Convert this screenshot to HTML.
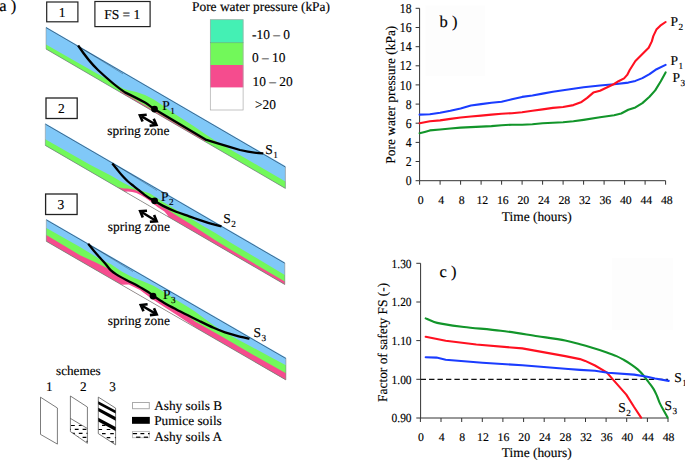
<!DOCTYPE html><html><head><meta charset="utf-8"><style>html,body{margin:0;padding:0;background:#fff;}svg{display:block;}text{text-rendering:geometricPrecision;font-family:'Liberation Serif', serif;fill:#000;stroke:#000;stroke-width:0.15px;}</style></head><body>
<svg width="685" height="460" viewBox="0 0 685 460">
<rect width="685" height="460" fill="#fff"/>
<rect x="425.4" y="5.4" width="59.8" height="70.6" fill="#fdfdfd"/>
<rect x="612" y="258" width="61" height="72" fill="#fdfdfd"/>
<text x="-0.8" y="10.8" font-size="16.5" text-anchor="start" >a )</text>
<rect x="46.7" y="2" width="31.2" height="19.8" fill="#fff" stroke="#222" stroke-width="1.2"/>
<text x="62.2" y="17" font-size="13.5" text-anchor="middle" >1</text>
<rect x="94.9" y="1.5" width="55.2" height="25.1" fill="#fff" stroke="#222" stroke-width="1.2"/>
<text x="122.3" y="18.9" font-size="13.5" text-anchor="middle" >FS = 1</text>
<rect x="46" y="98" width="31.2" height="20.5" fill="#fff" stroke="#222" stroke-width="1.3"/>
<text x="61.4" y="112.8" font-size="13.5" text-anchor="middle" >2</text>
<rect x="45.6" y="194" width="31.5" height="20.5" fill="#fff" stroke="#222" stroke-width="1.3"/>
<text x="60.8" y="208.7" font-size="13.5" text-anchor="middle" >3</text>
<text x="192" y="11.2" font-size="13.4" text-anchor="start" >Pore water pressure (kPa)</text>
<rect x="210" y="19.4" width="33.4" height="23.2" fill="#44F0B4"/>
<rect x="210" y="42.6" width="33.4" height="22.4" fill="#72F85A"/>
<rect x="210" y="65" width="33.4" height="22.4" fill="#F54C8E"/>
<rect x="210.3" y="19.7" width="32.8" height="90.3" fill="none" stroke="#aaa" stroke-width="0.7"/>
<line x1="210" y1="42.6" x2="243.4" y2="42.6" stroke="#3a9a70" stroke-width="0.5"/>
<text x="252" y="39.4" font-size="13.4" text-anchor="start" >-10 – 0</text>
<text x="252" y="62.4" font-size="13.4" text-anchor="start" >0 – 10</text>
<text x="252.5" y="85.7" font-size="13.4" text-anchor="start" >10 – 20</text>
<text x="255" y="108.5" font-size="13.4" text-anchor="start" >&gt;20</text>
<polygon points="46.0,26.7 285.4,166.1 285.4,188.4 46.0,49.0" fill="#80C8F8"/>
<polygon points="46.0,44.5 70.0,58.3 110.0,81.1 123.0,88.5 127.5,89.9 136.3,92.1 145.0,95.0 153.8,99.5 160.9,104.2 171.7,112.0 182.6,118.9 193.5,125.9 204.3,133.4 215.0,140.6 285.4,181.5 285.4,188.4 46.0,49.0" fill="#72F85A"/>
<polygon points="120.0,90.7 205.0,140.2 205.0,141.6 120.0,92.1" fill="#F54C8E"/>
<line x1="46" y1="27.6" x2="285.4" y2="167.0" stroke="#2a4a68" stroke-width="0.75"/>
<line x1="78" y1="46.2" x2="123" y2="73.9" stroke="#1a3550" stroke-width="0.5" stroke-opacity="0.7"/>
<line x1="46" y1="49.0" x2="285.4" y2="188.4" stroke="#777" stroke-width="0.7"/>
<line x1="46" y1="27.4" x2="46" y2="49.0" stroke="#888" stroke-width="0.5"/>
<line x1="285.4" y1="166.8" x2="285.4" y2="188.4" stroke="#888" stroke-width="0.6"/>
<path d="M78.1,45.5 C83.5,53.5 90,62.5 98,70 C106,77.5 116,86.5 125,92.4 C132,95.8 140,99.8 145,102.6 C149,105 151,107 154.6,109.2 L206.4,139.9 C215,142.6 228,146.5 240,150 C249,152.2 256,153 263.3,153.4" fill="none" stroke="#000" stroke-width="2.3" stroke-linecap="butt" stroke-linejoin="round"/>
<circle cx="154.5" cy="109.1" r="3.4" fill="#000"/>
<text x="162.2" y="110.4" font-size="13.5">P<tspan font-size="9.2" dx="0.5" dy="4">1</tspan></text>
<line x1="141.6" y1="116.4" x2="154.7" y2="124.0" stroke="#000" stroke-width="2.5"/>
<polyline points="142.6,121.6 139.9,115.4 146.7,114.7" fill="none" stroke="#000" stroke-width="2.6" stroke-linejoin="miter"/>
<polyline points="149.6,125.7 156.4,125.0 153.7,118.8" fill="none" stroke="#000" stroke-width="2.6" stroke-linejoin="miter"/>
<text x="107.3" y="135.1" font-size="13.4" text-anchor="start" >spring zone</text>
<text x="265.2" y="153.6" font-size="13.5">S<tspan font-size="9.2" dx="0.5" dy="4">1</tspan></text>
<polygon points="45.3,123.2 284.8,262.3 284.8,284.5 45.3,145.4" fill="#80C8F8"/>
<polygon points="45.3,139.3 90.0,164.7 111.7,176.1 122.6,182.6 133.5,188.0 150.0,193.5 163.1,202.0 176.1,209.8 189.2,217.6 202.2,225.5 215.3,233.1 230.0,242.2 284.8,275.0 284.8,284.5 45.3,145.4" fill="#72F85A"/>
<polygon points="117.5,187.2 118.8,187.4 123.5,188.5 127.0,188.4 130.6,188.9 134.7,189.8 138.2,191.2 144.3,193.4 150.0,198.2 157.8,204.6 167.0,209.2 176.1,215.3 189.2,223.3 202.2,231.8 215.3,240.2 230.0,249.3 284.8,281.6 284.8,284.5 117.5,187.3" fill="#F54C8E"/>
<polygon points="124.6,191.5 126.0,191.7 127.6,191.5 132.3,191.9 136.4,193.0 140.5,195.1 145.2,197.7 150.0,200.9 157.8,207.2 164.4,211.6 167.0,214.6 168.5,217.0" fill="#ffffff"/>
<line x1="45.3" y1="124.1" x2="284.8" y2="263.2" stroke="#2a4a68" stroke-width="0.75"/>
<line x1="112" y1="162.8" x2="157" y2="190.5" stroke="#1a3550" stroke-width="0.5" stroke-opacity="0.7"/>
<line x1="45.3" y1="145.4" x2="284.8" y2="284.5" stroke="#777" stroke-width="0.7"/>
<line x1="45.3" y1="123.9" x2="45.3" y2="145.4" stroke="#888" stroke-width="0.5"/>
<line x1="284.8" y1="263.0" x2="284.8" y2="284.5" stroke="#888" stroke-width="0.6"/>
<path d="M112.3,163.6 C113.1,164.6 115.5,167.5 117.2,169.6 C118.9,171.7 120.8,174.1 122.6,176.1 C124.4,178.1 126.2,179.9 128.0,181.5 C129.8,183.1 131.7,184.5 133.5,185.9 C135.3,187.3 137.1,188.8 138.9,190.2 C140.7,191.6 142.5,193.2 144.3,194.6 C146.2,196.0 148.3,197.4 150.0,198.4 C151.7,199.4 152.4,199.6 154.6,200.8 C156.8,202.1 159.5,204.1 163.1,205.9 C166.7,207.7 171.8,210.1 176.1,211.8 C180.4,213.5 184.8,214.8 189.2,216.3 C193.5,217.8 198.3,219.6 202.2,220.9 C206.1,222.2 209.5,223.3 212.7,224.2 C215.9,225.1 220.0,226.1 221.5,226.5" fill="none" stroke="#000" stroke-width="2.3" stroke-linecap="butt" stroke-linejoin="round"/>
<circle cx="154.6" cy="200.8" r="3.4" fill="#000"/>
<text x="161.1" y="201.4" font-size="13.5">P<tspan font-size="9.2" dx="0.5" dy="4">2</tspan></text>
<line x1="141.9" y1="212.2" x2="155.0" y2="220.3" stroke="#000" stroke-width="2.5"/>
<polyline points="142.8,217.5 140.2,211.2 147.0,210.7" fill="none" stroke="#000" stroke-width="2.6" stroke-linejoin="miter"/>
<polyline points="149.9,221.8 156.7,221.3 154.1,215.0" fill="none" stroke="#000" stroke-width="2.6" stroke-linejoin="miter"/>
<text x="107.8" y="231.3" font-size="13.4" text-anchor="start" >spring zone</text>
<text x="223.3" y="222.8" font-size="13.5">S<tspan font-size="9.2" dx="0.5" dy="4">2</tspan></text>
<polygon points="46.3,219.0 285.9,357.6 285.9,379.9 46.3,241.3" fill="#80C8F8"/>
<polygon points="46.3,228.0 80.0,247.1 100.0,259.2 111.0,264.3 122.0,271.7 133.0,277.5 143.5,281.5 154.0,285.9 164.0,292.0 176.0,299.7 188.0,307.0 195.0,311.5 205.0,319.0 220.0,329.8 235.0,338.1 250.0,345.9 270.0,356.7 285.9,365.3 285.9,379.9 46.3,241.3" fill="#72F85A"/>
<polygon points="46.3,235.1 80.0,255.2 96.3,262.8 107.2,268.3 112.6,271.6 118.0,274.4 128.9,281.0 140.0,287.7 152.6,296.2 163.9,302.7 175.9,309.3 187.9,316.1 195.0,321.5 220.0,335.6 250.0,353.1 285.9,373.3 285.9,379.9 46.3,241.3" fill="#F54C8E"/>
<polygon points="121.3,284.7 128.9,284.5 140.0,289.9 152.0,299.1 164.0,306.7 176.0,314.5 188.0,322.5 197.0,328.5 197.0,328.5 188.0,323.3 176.0,316.3 164.0,309.4 152.0,302.4 140.0,295.5 128.9,289.1 121.3,284.7" fill="#ffffff"/>
<line x1="46.3" y1="219.9" x2="285.9" y2="358.5" stroke="#2a4a68" stroke-width="0.75"/>
<line x1="88" y1="244.0" x2="133" y2="271.6" stroke="#1a3550" stroke-width="0.5" stroke-opacity="0.7"/>
<line x1="46.3" y1="241.29999999999998" x2="285.9" y2="379.90000000000003" stroke="#777" stroke-width="0.7"/>
<line x1="46.3" y1="219.7" x2="46.3" y2="241.29999999999998" stroke="#888" stroke-width="0.5"/>
<line x1="285.9" y1="358.3" x2="285.9" y2="379.90000000000003" stroke="#888" stroke-width="0.6"/>
<path d="M88.2,243.8 C89.2,245.0 92.0,248.7 94.0,251.0 C96.0,253.3 98.0,255.6 100.0,257.8 C102.0,260.1 104.2,262.4 106.0,264.5 C107.8,266.6 109.2,268.8 110.9,270.4 C112.6,272.0 113.6,272.7 116.3,274.4 C119.0,276.1 123.6,278.5 127.2,280.4 C130.8,282.3 134.4,283.9 138.0,285.9 C141.6,287.9 146.3,290.8 148.9,292.4 C151.5,294.0 150.8,294.1 153.3,295.8 C155.8,297.5 160.1,300.5 163.9,302.7 C167.7,304.9 171.9,307.1 175.9,309.2 C179.9,311.3 183.9,313.3 187.9,315.3 C191.9,317.3 195.5,319.1 199.8,321.2 C204.1,323.3 209.4,325.9 213.6,327.8 C217.8,329.7 221.1,331.0 225.0,332.3 C228.9,333.6 232.9,334.7 237.0,335.8 C241.1,336.9 247.4,338.2 249.5,338.7" fill="none" stroke="#000" stroke-width="2.3" stroke-linecap="butt" stroke-linejoin="round"/>
<circle cx="153" cy="296.1" r="3.4" fill="#000"/>
<text x="163" y="299" font-size="13.5">P<tspan font-size="9.2" dx="0.5" dy="4">3</tspan></text>
<line x1="142.5" y1="306.0" x2="155.0" y2="313.4" stroke="#000" stroke-width="2.5"/>
<polyline points="143.5,311.2 140.8,305.0 147.6,304.3" fill="none" stroke="#000" stroke-width="2.6" stroke-linejoin="miter"/>
<polyline points="149.9,315.1 156.7,314.4 154.0,308.2" fill="none" stroke="#000" stroke-width="2.6" stroke-linejoin="miter"/>
<text x="107.8" y="324.5" font-size="13.4" text-anchor="start" >spring zone</text>
<text x="253.6" y="337" font-size="13.5">S<tspan font-size="9.2" dx="0.5" dy="4">3</tspan></text>
<text x="56" y="374.7" font-size="13.2" text-anchor="start" >schemes</text>
<text x="49.2" y="390.8" font-size="13.2" text-anchor="middle" >1</text>
<text x="83.2" y="390.8" font-size="13.2" text-anchor="middle" >2</text>
<text x="112.5" y="390.8" font-size="13.2" text-anchor="middle" >3</text>
<polygon points="40.5,397.2 57.4,408 57.4,444.1 40.5,434.4" fill="#fff" stroke="#444" stroke-width="0.7"/>
<clipPath id="cl2"><polygon points="70.4,418.6 87.4,428.7 87.4,443.3 70.4,431.6"/></clipPath>
<clipPath id="cl3"><polygon points="98.3,421.5 115.6,430.6 115.6,444.8 98.3,433.6"/></clipPath>
<polygon points="70.4,396 87.4,407 87.4,443.3 70.4,431.6" fill="#fff" stroke="#444" stroke-width="0.7"/>
<g clip-path="url(#cl2)" stroke="#000" stroke-width="1.2"><line x1="63.2" y1="425.5" x2="67.0" y2="425.5"/><line x1="71.0" y1="425.5" x2="74.8" y2="425.5"/><line x1="78.8" y1="425.5" x2="82.5" y2="425.5"/><line x1="86.5" y1="425.5" x2="90.3" y2="425.5"/><line x1="94.2" y1="425.5" x2="98.0" y2="425.5"/><line x1="67.1" y1="429.4" x2="70.9" y2="429.4"/><line x1="74.8" y1="429.4" x2="78.6" y2="429.4"/><line x1="82.6" y1="429.4" x2="86.4" y2="429.4"/><line x1="90.3" y1="429.4" x2="94.1" y2="429.4"/><line x1="98.1" y1="429.4" x2="101.9" y2="429.4"/><line x1="63.2" y1="433.4" x2="67.0" y2="433.4"/><line x1="71.0" y1="433.4" x2="74.8" y2="433.4"/><line x1="78.8" y1="433.4" x2="82.5" y2="433.4"/><line x1="86.5" y1="433.4" x2="90.3" y2="433.4"/><line x1="94.2" y1="433.4" x2="98.0" y2="433.4"/><line x1="67.1" y1="437.4" x2="70.9" y2="437.4"/><line x1="74.8" y1="437.4" x2="78.6" y2="437.4"/><line x1="82.6" y1="437.4" x2="86.4" y2="437.4"/><line x1="90.3" y1="437.4" x2="94.1" y2="437.4"/><line x1="98.1" y1="437.4" x2="101.9" y2="437.4"/><line x1="63.2" y1="441.3" x2="67.0" y2="441.3"/><line x1="71.0" y1="441.3" x2="74.8" y2="441.3"/><line x1="78.8" y1="441.3" x2="82.5" y2="441.3"/><line x1="86.5" y1="441.3" x2="90.3" y2="441.3"/><line x1="94.2" y1="441.3" x2="98.0" y2="441.3"/><line x1="67.1" y1="445.2" x2="70.9" y2="445.2"/><line x1="74.8" y1="445.2" x2="78.6" y2="445.2"/><line x1="82.6" y1="445.2" x2="86.4" y2="445.2"/><line x1="90.3" y1="445.2" x2="94.1" y2="445.2"/><line x1="98.1" y1="445.2" x2="101.9" y2="445.2"/></g>
<line x1="70.4" y1="418.4" x2="87.4" y2="428.5" stroke="#444" stroke-width="0.7"/>
<polygon points="98.3,397.1 115.6,408.1 115.6,444.8 98.3,433.6" fill="#fff" stroke="#444" stroke-width="0.7"/>
<polygon points="98.3,401.2 115.6,410.6 115.6,413.6 98.3,404.2" fill="#000"/>
<polygon points="98.3,407.7 115.6,417.1 115.6,420.70000000000005 98.3,411.3" fill="#000"/>
<polygon points="98.3,417.7 115.6,427.1 115.6,430.90000000000003 98.3,421.5" fill="#000"/>
<g clip-path="url(#cl3)" stroke="#000" stroke-width="1.2"><line x1="93.8" y1="425.4" x2="97.4" y2="425.4"/><line x1="102.0" y1="425.4" x2="105.6" y2="425.4"/><line x1="110.2" y1="425.4" x2="113.8" y2="425.4"/><line x1="118.4" y1="425.4" x2="122.0" y2="425.4"/><line x1="126.6" y1="425.4" x2="130.2" y2="425.4"/><line x1="90.3" y1="429.5" x2="93.9" y2="429.5"/><line x1="98.5" y1="429.5" x2="102.1" y2="429.5"/><line x1="106.7" y1="429.5" x2="110.3" y2="429.5"/><line x1="114.9" y1="429.5" x2="118.5" y2="429.5"/><line x1="123.1" y1="429.5" x2="126.7" y2="429.5"/><line x1="93.8" y1="433.6" x2="97.4" y2="433.6"/><line x1="102.0" y1="433.6" x2="105.6" y2="433.6"/><line x1="110.2" y1="433.6" x2="113.8" y2="433.6"/><line x1="118.4" y1="433.6" x2="122.0" y2="433.6"/><line x1="126.6" y1="433.6" x2="130.2" y2="433.6"/><line x1="90.3" y1="437.7" x2="93.9" y2="437.7"/><line x1="98.5" y1="437.7" x2="102.1" y2="437.7"/><line x1="106.7" y1="437.7" x2="110.3" y2="437.7"/><line x1="114.9" y1="437.7" x2="118.5" y2="437.7"/><line x1="123.1" y1="437.7" x2="126.7" y2="437.7"/><line x1="93.8" y1="441.8" x2="97.4" y2="441.8"/><line x1="102.0" y1="441.8" x2="105.6" y2="441.8"/><line x1="110.2" y1="441.8" x2="113.8" y2="441.8"/><line x1="118.4" y1="441.8" x2="122.0" y2="441.8"/><line x1="126.6" y1="441.8" x2="130.2" y2="441.8"/><line x1="90.3" y1="445.9" x2="93.9" y2="445.9"/><line x1="98.5" y1="445.9" x2="102.1" y2="445.9"/><line x1="106.7" y1="445.9" x2="110.3" y2="445.9"/><line x1="114.9" y1="445.9" x2="118.5" y2="445.9"/><line x1="123.1" y1="445.9" x2="126.7" y2="445.9"/></g>
<rect x="132.5" y="402.5" width="16.8" height="6.2" fill="#fff" stroke="#aaa" stroke-width="1"/>
<rect x="132" y="416.9" width="17.8" height="6.9" fill="#000"/>
<rect x="132.5" y="431.5" width="16.8" height="6.2" fill="#fff" stroke="#bbb" stroke-width="0.9"/>
<line x1="132.8" y1="433.6" x2="137.1" y2="433.6" stroke="#000" stroke-width="1.2"/>
<line x1="140.4" y1="433.6" x2="144.3" y2="433.6" stroke="#000" stroke-width="1.2"/>
<line x1="148" y1="433.6" x2="149.6" y2="433.6" stroke="#000" stroke-width="1.2"/>
<line x1="136.1" y1="437.2" x2="140.4" y2="437.2" stroke="#000" stroke-width="1.2"/>
<line x1="143.8" y1="437.2" x2="148" y2="437.2" stroke="#000" stroke-width="1.2"/>
<text x="154.2" y="409.9" font-size="13.3" text-anchor="start" >Ashy soils B</text>
<text x="154.2" y="425.3" font-size="13.3" text-anchor="start" >Pumice soils</text>
<text x="154.2" y="441.3" font-size="13.3" text-anchor="start" >Ashy soils A</text>
<line x1="419.6" y1="8.3" x2="419.6" y2="180.7" stroke="#333" stroke-width="1"/>
<line x1="419.6" y1="180.7" x2="665.6" y2="180.7" stroke="#333" stroke-width="1"/>
<line x1="415.6" y1="180.7" x2="419.6" y2="180.7" stroke="#333" stroke-width="1"/>
<text x="0" y="0" font-size="13.5" text-anchor="end" transform="translate(411.6,185.25) scale(0.87,1)">0</text>
<line x1="415.6" y1="161.5" x2="419.6" y2="161.5" stroke="#333" stroke-width="1"/>
<text x="0" y="0" font-size="13.5" text-anchor="end" transform="translate(411.6,166.10) scale(0.87,1)">2</text>
<line x1="415.6" y1="142.4" x2="419.6" y2="142.4" stroke="#333" stroke-width="1"/>
<text x="0" y="0" font-size="13.5" text-anchor="end" transform="translate(411.6,146.95) scale(0.87,1)">4</text>
<line x1="415.6" y1="123.2" x2="419.6" y2="123.2" stroke="#333" stroke-width="1"/>
<text x="0" y="0" font-size="13.5" text-anchor="end" transform="translate(411.6,127.80) scale(0.87,1)">6</text>
<line x1="415.6" y1="104.1" x2="419.6" y2="104.1" stroke="#333" stroke-width="1"/>
<text x="0" y="0" font-size="13.5" text-anchor="end" transform="translate(411.6,108.65) scale(0.87,1)">8</text>
<line x1="415.6" y1="84.9" x2="419.6" y2="84.9" stroke="#333" stroke-width="1"/>
<text x="0" y="0" font-size="13.5" text-anchor="end" transform="translate(411.6,89.50) scale(0.87,1)">10</text>
<line x1="415.6" y1="65.8" x2="419.6" y2="65.8" stroke="#333" stroke-width="1"/>
<text x="0" y="0" font-size="13.5" text-anchor="end" transform="translate(411.6,70.35) scale(0.87,1)">12</text>
<line x1="415.6" y1="46.7" x2="419.6" y2="46.7" stroke="#333" stroke-width="1"/>
<text x="0" y="0" font-size="13.5" text-anchor="end" transform="translate(411.6,51.20) scale(0.87,1)">14</text>
<line x1="415.6" y1="27.5" x2="419.6" y2="27.5" stroke="#333" stroke-width="1"/>
<text x="0" y="0" font-size="13.5" text-anchor="end" transform="translate(411.6,32.05) scale(0.87,1)">16</text>
<line x1="415.6" y1="8.3" x2="419.6" y2="8.3" stroke="#333" stroke-width="1"/>
<text x="0" y="0" font-size="13.5" text-anchor="end" transform="translate(411.6,12.90) scale(0.87,1)">18</text>
<line x1="419.6" y1="180.7" x2="419.6" y2="184.7" stroke="#333" stroke-width="1"/>
<text x="420.8" y="203.8" font-size="11.8" text-anchor="middle" >0</text>
<line x1="440.1" y1="180.7" x2="440.1" y2="184.7" stroke="#333" stroke-width="1"/>
<text x="441.3" y="203.8" font-size="11.8" text-anchor="middle" >4</text>
<line x1="460.6" y1="180.7" x2="460.6" y2="184.7" stroke="#333" stroke-width="1"/>
<text x="461.8" y="203.8" font-size="11.8" text-anchor="middle" >8</text>
<line x1="481.1" y1="180.7" x2="481.1" y2="184.7" stroke="#333" stroke-width="1"/>
<text x="482.3" y="203.8" font-size="11.8" text-anchor="middle" >12</text>
<line x1="501.6" y1="180.7" x2="501.6" y2="184.7" stroke="#333" stroke-width="1"/>
<text x="502.8" y="203.8" font-size="11.8" text-anchor="middle" >16</text>
<line x1="522.1" y1="180.7" x2="522.1" y2="184.7" stroke="#333" stroke-width="1"/>
<text x="523.3" y="203.8" font-size="11.8" text-anchor="middle" >20</text>
<line x1="542.6" y1="180.7" x2="542.6" y2="184.7" stroke="#333" stroke-width="1"/>
<text x="543.8" y="203.8" font-size="11.8" text-anchor="middle" >24</text>
<line x1="563.1" y1="180.7" x2="563.1" y2="184.7" stroke="#333" stroke-width="1"/>
<text x="564.3" y="203.8" font-size="11.8" text-anchor="middle" >28</text>
<line x1="583.6" y1="180.7" x2="583.6" y2="184.7" stroke="#333" stroke-width="1"/>
<text x="584.8" y="203.8" font-size="11.8" text-anchor="middle" >32</text>
<line x1="604.1" y1="180.7" x2="604.1" y2="184.7" stroke="#333" stroke-width="1"/>
<text x="605.3" y="203.8" font-size="11.8" text-anchor="middle" >36</text>
<line x1="624.6" y1="180.7" x2="624.6" y2="184.7" stroke="#333" stroke-width="1"/>
<text x="625.8" y="203.8" font-size="11.8" text-anchor="middle" >40</text>
<line x1="645.1" y1="180.7" x2="645.1" y2="184.7" stroke="#333" stroke-width="1"/>
<text x="646.3" y="203.8" font-size="11.8" text-anchor="middle" >44</text>
<line x1="665.6" y1="180.7" x2="665.6" y2="184.7" stroke="#333" stroke-width="1"/>
<text x="666.8" y="203.8" font-size="11.8" text-anchor="middle" >48</text>
<text x="536.7" y="220.7" font-size="13.4" text-anchor="middle" >Time (hours)</text>
<text x="0" y="0" font-size="13.4" text-anchor="middle" transform="translate(394.5,94.7) rotate(-90)">Pore water pressure (kPa)</text>
<text x="439.5" y="26.6" font-size="16.5" text-anchor="start" >b )</text>
<polyline points="419.6,133.3 424.7,131.9 429.9,130.4 440.1,129.5 450.4,128.5 460.6,127.6 470.9,127.1 481.1,126.6 491.4,126.1 501.6,125.2 511.9,124.7 522.1,124.7 532.4,124.2 542.6,123.2 552.9,122.8 563.1,122.3 573.4,121.3 583.6,119.9 600.0,117.3 614.1,115.2 621.2,113.5 628.3,109.8 635.4,107.4 642.4,103.1 649.5,96.8 655.2,90.4 660.8,81.2 665.6,72.4" fill="none" stroke="#12952a" stroke-width="2.1" stroke-linejoin="round" stroke-linecap="round"/>
<polyline points="419.6,114.6 429.9,114.2 440.1,112.7 450.4,110.8 460.6,108.4 470.9,105.5 481.1,104.1 491.4,102.7 501.6,101.7 511.9,99.3 522.1,96.9 532.4,95.5 542.6,93.6 552.9,91.7 563.1,90.2 573.4,88.8 583.6,87.3 600.0,85.5 614.1,84.3 628.3,82.6 635.4,80.9 642.4,78.1 649.5,74.1 656.6,69.2 665.6,64.9" fill="none" stroke="#1a3cff" stroke-width="2.1" stroke-linejoin="round" stroke-linecap="round"/>
<polyline points="419.6,123.2 429.9,121.3 440.1,120.4 450.4,118.9 460.6,117.5 470.9,116.5 481.1,115.6 491.4,114.6 501.6,113.7 511.9,113.2 522.1,112.2 532.4,110.8 542.6,109.4 552.9,107.9 563.1,107.0 573.4,105.1 581.6,101.9 587.2,97.9 593.3,92.6 600.0,90.7 614.1,84.0 618.5,81.2 624.1,78.4 627.2,74.9 629.7,70.0 635.4,61.0 643.4,53.0 648.7,47.8 651.8,41.4 653.3,36.1 656.4,29.6 660.3,25.7 665.6,22.0" fill="none" stroke="#ff1020" stroke-width="2.1" stroke-linejoin="round" stroke-linecap="round"/>
<text x="670.5" y="26" font-size="13.5">P<tspan font-size="9.2" dx="0.5" dy="4">2</tspan></text>
<text x="670.5" y="65.4" font-size="13.5">P<tspan font-size="9.2" dx="0.5" dy="4">1</tspan></text>
<text x="672.5" y="82" font-size="13.5">P<tspan font-size="9.2" dx="0.5" dy="4">3</tspan></text>
<line x1="420.6" y1="263.3" x2="420.6" y2="418.0" stroke="#333" stroke-width="1"/>
<line x1="420.6" y1="418.0" x2="668.0" y2="418.0" stroke="#333" stroke-width="1"/>
<line x1="416.3" y1="263.3" x2="420.6" y2="263.3" stroke="#333" stroke-width="1"/>
<text x="0" y="0" font-size="12.3" text-anchor="end" transform="translate(411.6,267.50) scale(0.93,1)">1.30</text>
<line x1="416.3" y1="302.0" x2="420.6" y2="302.0" stroke="#333" stroke-width="1"/>
<text x="0" y="0" font-size="12.3" text-anchor="end" transform="translate(411.6,306.18) scale(0.93,1)">1.20</text>
<line x1="416.3" y1="340.6" x2="420.6" y2="340.6" stroke="#333" stroke-width="1"/>
<text x="0" y="0" font-size="12.3" text-anchor="end" transform="translate(411.6,344.85) scale(0.93,1)">1.10</text>
<line x1="416.3" y1="379.3" x2="420.6" y2="379.3" stroke="#333" stroke-width="1"/>
<text x="0" y="0" font-size="12.3" text-anchor="end" transform="translate(411.6,383.52) scale(0.93,1)">1.00</text>
<line x1="416.3" y1="418.0" x2="420.6" y2="418.0" stroke="#333" stroke-width="1"/>
<text x="0" y="0" font-size="12.3" text-anchor="end" transform="translate(411.6,422.20) scale(0.93,1)">0.90</text>
<line x1="420.4" y1="418.0" x2="420.4" y2="422.0" stroke="#333" stroke-width="1"/>
<text x="421.0" y="440.8" font-size="11.8" text-anchor="middle" >0</text>
<line x1="441.0" y1="418.0" x2="441.0" y2="422.0" stroke="#333" stroke-width="1"/>
<text x="441.6" y="440.8" font-size="11.8" text-anchor="middle" >4</text>
<line x1="461.7" y1="418.0" x2="461.7" y2="422.0" stroke="#333" stroke-width="1"/>
<text x="462.3" y="440.8" font-size="11.8" text-anchor="middle" >8</text>
<line x1="482.3" y1="418.0" x2="482.3" y2="422.0" stroke="#333" stroke-width="1"/>
<text x="482.9" y="440.8" font-size="11.8" text-anchor="middle" >12</text>
<line x1="502.9" y1="418.0" x2="502.9" y2="422.0" stroke="#333" stroke-width="1"/>
<text x="503.5" y="440.8" font-size="11.8" text-anchor="middle" >16</text>
<line x1="523.6" y1="418.0" x2="523.6" y2="422.0" stroke="#333" stroke-width="1"/>
<text x="524.2" y="440.8" font-size="11.8" text-anchor="middle" >20</text>
<line x1="544.2" y1="418.0" x2="544.2" y2="422.0" stroke="#333" stroke-width="1"/>
<text x="544.8" y="440.8" font-size="11.8" text-anchor="middle" >24</text>
<line x1="564.8" y1="418.0" x2="564.8" y2="422.0" stroke="#333" stroke-width="1"/>
<text x="565.4" y="440.8" font-size="11.8" text-anchor="middle" >28</text>
<line x1="585.5" y1="418.0" x2="585.5" y2="422.0" stroke="#333" stroke-width="1"/>
<text x="586.1" y="440.8" font-size="11.8" text-anchor="middle" >32</text>
<line x1="606.1" y1="418.0" x2="606.1" y2="422.0" stroke="#333" stroke-width="1"/>
<text x="606.7" y="440.8" font-size="11.8" text-anchor="middle" >36</text>
<line x1="626.7" y1="418.0" x2="626.7" y2="422.0" stroke="#333" stroke-width="1"/>
<text x="627.3" y="440.8" font-size="11.8" text-anchor="middle" >40</text>
<line x1="647.4" y1="418.0" x2="647.4" y2="422.0" stroke="#333" stroke-width="1"/>
<text x="648.0" y="440.8" font-size="11.8" text-anchor="middle" >44</text>
<line x1="668.0" y1="418.0" x2="668.0" y2="422.0" stroke="#333" stroke-width="1"/>
<text x="668.6" y="440.8" font-size="11.8" text-anchor="middle" >48</text>
<text x="536.7" y="456.8" font-size="13.4" text-anchor="middle" >Time (hours)</text>
<text x="0" y="0" font-size="13.4" text-anchor="middle" transform="translate(387.3,342.4) rotate(-90)">Factor of safety FS (-)</text>
<text x="439.5" y="277.4" font-size="16.5" text-anchor="start" >c )</text>
<line x1="420.6" y1="379.3" x2="668.0" y2="379.3" stroke="#111" stroke-width="1.2" stroke-dasharray="5.4,3.05"/>
<path d="M425.7,318.4 C426.9,318.9 430.4,320.6 433.0,321.5 C435.6,322.4 435.9,322.7 441.1,323.6 C446.3,324.5 454.1,325.8 464.0,327.0 C473.9,328.2 488.5,329.2 500.8,330.7 C513.1,332.2 526.9,334.6 537.6,336.2 C548.3,337.8 558.1,339.1 565.2,340.5 C572.3,341.9 575.5,343.1 580.0,344.3 C584.5,345.5 587.9,346.5 592.2,347.8 C596.6,349.1 602.1,350.8 606.1,352.2 C610.1,353.6 613.5,354.8 616.5,356.1 C619.5,357.4 621.5,358.6 624.0,360.0 C626.5,361.4 629.4,363.2 631.7,364.8 C634.0,366.4 636.0,367.8 638.0,369.6 C640.0,371.4 642.0,373.6 643.7,375.7 C645.5,377.8 646.9,379.8 648.5,382.0 C650.1,384.2 652.1,386.6 653.5,388.9 C654.9,391.2 655.9,393.6 657.0,396.0 C658.1,398.4 658.8,401.1 660.0,403.6 C661.2,406.1 662.7,408.7 664.0,411.0 C665.3,413.3 667.0,416.5 667.6,417.6" fill="none" stroke="#12952a" stroke-width="2.1" stroke-linejoin="round" stroke-linecap="round"/>
<polyline points="425.7,336.8 445.7,340.8 476.3,344.5 522.3,348.4 565.2,356.1 580.0,359.1 585.2,360.9 595.0,365.5 606.7,372.4 626.3,394.6 634.1,407.0 641.1,417.6" fill="none" stroke="#ff1020" stroke-width="2.1" stroke-linejoin="round" stroke-linecap="round"/>
<polyline points="425.7,357.3 436.5,357.6 445.7,359.8 482.4,362.8 522.3,365.3 568.3,369.0 580.0,369.9 595.0,370.8 608.0,372.7 634.1,374.6 647.2,376.7 655.0,378.5 668.7,380.9" fill="none" stroke="#1a3cff" stroke-width="2.1" stroke-linejoin="round" stroke-linecap="round"/>
<text x="674.3" y="382.4" font-size="13.5">S<tspan font-size="9.2" dx="0.5" dy="4">1</tspan></text>
<text x="618.2" y="411.6" font-size="13.5">S<tspan font-size="9.2" dx="0.5" dy="4">2</tspan></text>
<text x="664.6" y="409.6" font-size="13.5">S<tspan font-size="9.2" dx="0.5" dy="4">3</tspan></text>
</svg></body></html>
